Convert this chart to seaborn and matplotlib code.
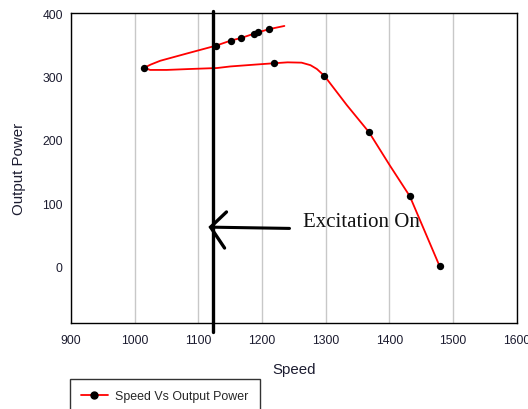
import matplotlib
matplotlib.use("Agg")
import matplotlib.pyplot as plt
from matplotlib.lines import Line2D
import pandas as pd
import seaborn as sns

# measured points (markers)
speed = [1015, 1128, 1151, 1167, 1188, 1194, 1211, 1218, 1298, 1368, 1432, 1479]
power = [314, 349, 357, 361, 368, 370, 375, 321, 301, 212, 111, 0]

# red smoothed path, in drawing order
path_speed = [1235, 1211, 1194, 1188, 1167, 1151, 1128, 1080, 1040, 1025, 1015,
              1024, 1050, 1087, 1129, 1150, 1190, 1218, 1240, 1262, 1276, 1286,
              1298, 1333, 1368, 1401, 1432, 1479]
path_power = [380, 375, 370, 368, 361, 357, 349, 336, 325, 319, 314,
              310.5, 310.5, 312, 313.5, 316, 319, 321, 322.5, 322, 318, 312,
              301, 255, 212, 159, 111, 0]

# hand drawn "Excitation On" marker
vline_x = [1123, 1123]
vline_y = [404, -103]
hline_x = [1243, 1119]
hline_y = [60, 62]
head_x = [1144, 1119, 1141]
head_y = [86, 62, 29]

path_df = pd.DataFrame({"Speed": path_speed, "Output Power": path_power})
pts_df = pd.DataFrame({"Speed": speed, "Output Power": power})

sns.set_style("white")
plt.rcParams["font.family"] = ["Liberation Sans", "DejaVu Sans"]

fig = plt.figure(figsize=(5.28, 4.10), dpi=100)
ax = fig.add_axes([0.1348, 0.209, 0.9786 - 0.1348, 0.9651 - 0.209])

sns.lineplot(data=path_df, x="Speed", y="Output Power", sort=False,
             color="#ff0000", linewidth=1.3, ax=ax, zorder=2)
sns.scatterplot(data=pts_df, x="Speed", y="Output Power", color="black",
                s=28, edgecolor="black", linewidth=0, ax=ax, zorder=3)

ax.plot(vline_x, vline_y, color="black", linewidth=2.4, clip_on=False, zorder=4)
ax.plot(hline_x, hline_y, color="black", linewidth=2.2, clip_on=False, zorder=4)
ax.plot(head_x, head_y, color="black", linewidth=2.4, clip_on=False, zorder=4,
        solid_joinstyle="miter")
ax.text(1265, 71, "Excitation On", fontsize=15, va="center", ha="left",
        family=["Liberation Serif", "DejaVu Serif"], color="#111111")

ax.set_xlim(900, 1600)
ax.set_ylim(-90, 400)
ax.set_xticks(range(900, 1601, 100))
ax.set_yticks(range(0, 401, 100))
ax.xaxis.grid(True, color="#c8c8c8", linewidth=1)
ax.yaxis.grid(False)
for s in ax.spines.values():
    s.set_color("black")
    s.set_linewidth(1)
ax.tick_params(axis="both", direction="out", length=3, width=1, color="black",
               labelsize=8.7, labelcolor="#1c1c30", pad=3)
ax.tick_params(axis="x", pad=5)
ax.set_xlabel("Speed", fontsize=10.8, color="#1c1c30", labelpad=11)
ax.set_ylabel("Output Power", fontsize=10.8, color="#1c1c30", labelpad=12)

handle = Line2D([], [], color="#ff0000", linewidth=1.3, marker="o",
                markersize=5, markerfacecolor="black", markeredgecolor="black")
leg = fig.legend([handle], ["Speed Vs Output Power"], loc="upper left",
                 bbox_to_anchor=(69.7 / 528, 1 - 380 / 410), fontsize=8.9,
                 frameon=True, fancybox=False, edgecolor="black",
                 borderpad=0.9, handlelength=2.2, handletextpad=0.6,
                 borderaxespad=0)
leg.get_frame().set_linewidth(1)

fig.savefig("out.png", dpi=100)
